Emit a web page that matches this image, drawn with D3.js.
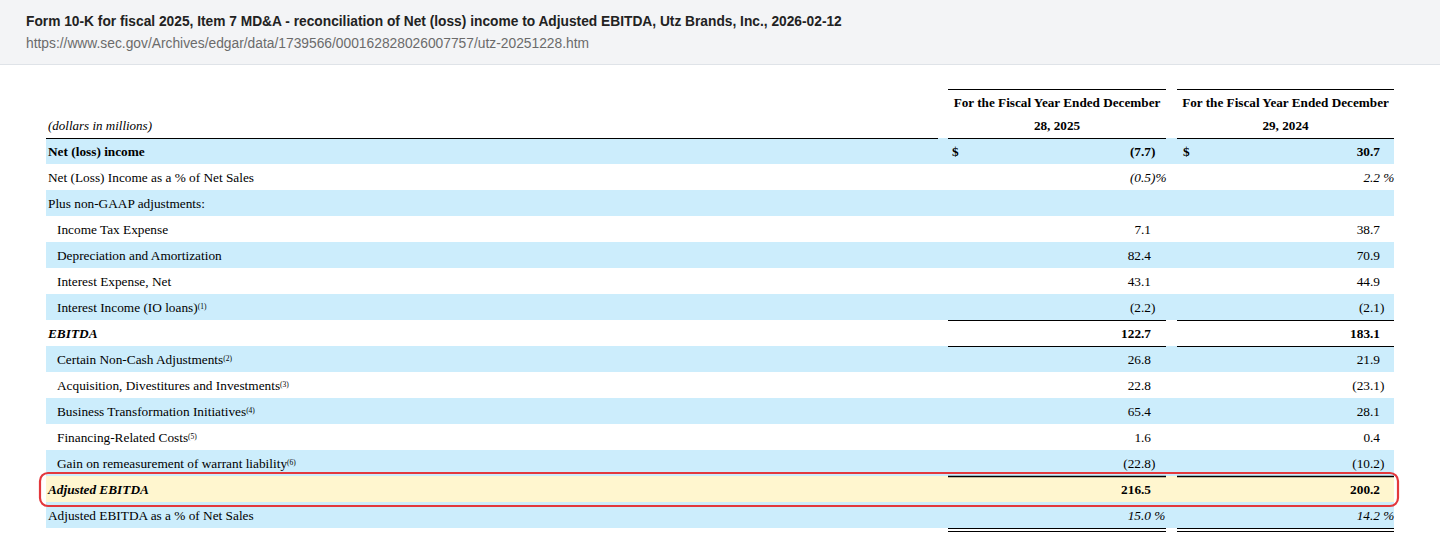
<!DOCTYPE html>
<html>
<head>
<meta charset="utf-8">
<script src="https://cdn.jsdelivr.net/npm/d3@7"></script>
<style>
  html, body { margin: 0; padding: 0; background: #ffffff; }
  svg { display: block; }
</style>
</head>
<body>
<div id="chart"></div>
<script>
// ---------- data ----------
const title = "Form 10-K for fiscal 2025, Item 7 MD&A - reconciliation of Net (loss) income to Adjusted EBITDA, Utz Brands, Inc., 2026-02-12";
const sourceUrl = "https://www.sec.gov/Archives/edgar/data/1739566/000162828026007757/utz-20251228.htm";
const unitsNote = "(dollars in millions)";
const columnHeaders = [
  ["For the Fiscal Year Ended December", "28, 2025"],
  ["For the Fiscal Year Ended December", "29, 2024"]
];
const rowLabels = [
  "Net (loss) income",
  "Net (Loss) Income as a % of Net Sales",
  "Plus non-GAAP adjustments:",
  "Income Tax Expense",
  "Depreciation and Amortization",
  "Interest Expense, Net",
  "Interest Income (IO loans)",
  "EBITDA",
  "Certain Non-Cash Adjustments",
  "Acquisition, Divestitures and Investments",
  "Business Transformation Initiatives",
  "Financing-Related Costs",
  "Gain on remeasurement of warrant liability",
  "Adjusted EBITDA",
  "Adjusted EBITDA as a % of Net Sales"
];
const footnoteMarks = [null, null, null, null, null, null, "(1)", null, "(2)", "(3)", "(4)", "(5)", "(6)", null, null];
const values2025 = [-7.7, -0.5, null, 7.1, 82.4, 43.1, -2.2, 122.7, 26.8, 22.8, 65.4, 1.6, -22.8, 216.5, 15.0];
const values2024 = [30.7, 2.2, null, 38.7, 70.9, 44.9, -2.1, 183.1, 21.9, -23.1, 28.1, 0.4, -10.2, 200.2, 14.2];
// row kinds: "total" bold, "subtotal" bold italic, "pct" italic percent, "item" indented, "plain"
const rowKinds = ["total", "pct", "plain", "item", "item", "item", "item", "subtotal", "item", "item", "item", "item", "item", "subtotal", "pct"];
const dollarRows = [0];
const highlightRow = 13;

// ---------- layout ----------
const W = 1440, H = 560;
const svg = d3.select("#chart").append("svg").attr("width", W).attr("height", H);

// header band
svg.append("rect").attr("x", 0).attr("y", 0).attr("width", W).attr("height", 64).attr("fill", "#f3f4f6");
svg.append("line").attr("x1", 0).attr("x2", W).attr("y1", 64.5).attr("y2", 64.5).attr("stroke", "#dfe3e8");
svg.append("text").attr("x", 26).attr("y", 26)
  .attr("font-family", "Liberation Sans, Arial, sans-serif").attr("font-weight", "bold")
  .attr("font-size", 13.75).attr("fill", "#222").text(title);
svg.append("text").attr("x", 26).attr("y", 48)
  .attr("font-family", "Liberation Sans, Arial, sans-serif")
  .attr("font-size", 13.8).attr("fill", "#6b6b6b").text(sourceUrl);

const serif = "Liberation Serif, 'Times New Roman', serif";
const fs = 13.3;
const tableLeft = 46, tableRight = 1394;
const colSpans = [[948, 1166], [1177, 1394]];
const numRight = [1151, 1380];
const dollarX = [952, 1183];

const y = d3.scaleBand().domain(d3.range(rowLabels.length)).range([138, 528]).paddingInner(0).paddingOuter(0);
const bw = y.bandwidth();

// row backgrounds
const rowFill = i => i === highlightRow ? "#fff6cf" : (i % 2 === 0 ? "#ccedfc" : "#ffffff");
svg.append("g").selectAll("rect").data(rowLabels).join("rect")
  .attr("x", tableLeft).attr("width", tableRight - tableLeft)
  .attr("y", (d, i) => y(i)).attr("height", bw)
  .attr("fill", (d, i) => rowFill(i));

// column headers
const hdr = svg.append("g").attr("font-family", serif).attr("font-weight", "bold").attr("font-size", 13.2).attr("fill", "#000");
columnHeaders.forEach((lines, c) => {
  const cx = (colSpans[c][0] + colSpans[c][1]) / 2;
  hdr.append("line").attr("x1", colSpans[c][0]).attr("x2", colSpans[c][1]).attr("y1", 89.5).attr("y2", 89.5).attr("stroke", "#000");
  lines.forEach((t, k) => hdr.append("text").attr("x", cx).attr("y", 106.5 + k * 23).attr("text-anchor", "middle").text(t));
});
svg.append("text").attr("x", 48).attr("y", 129.5).attr("font-family", serif).attr("font-style", "italic")
  .attr("font-size", 13).attr("fill", "#000").text(unitsNote);

// rule under header
const rules = svg.append("g").attr("stroke", "#000");
rules.append("line").attr("x1", tableLeft).attr("x2", 938).attr("y1", 138.5).attr("y2", 138.5);
colSpans.forEach(s => rules.append("line").attr("x1", s[0]).attr("x2", s[1]).attr("y1", 138.5).attr("y2", 138.5));

// subtotal rules
rowKinds.forEach((k, i) => {
  if (k === "subtotal") {
    colSpans.forEach(s => {
      rules.append("line").attr("x1", s[0]).attr("x2", s[1]).attr("y1", y(i) + 0.5).attr("y2", y(i) + 0.5)
        .attr("stroke-width", i === highlightRow ? 1.5 : 1);
      if (i !== highlightRow) rules.append("line").attr("x1", s[0]).attr("x2", s[1]).attr("y1", y(i) + bw + 0.5).attr("y2", y(i) + bw + 0.5);
    });
  }
});
// double rule at bottom
colSpans.forEach(s => {
  [0.5, 3.5].forEach(o => rules.append("line").attr("x1", s[0]).attr("x2", s[1])
    .attr("y1", y(rowLabels.length - 1) + bw + o).attr("y2", y(rowLabels.length - 1) + bw + o));
});

// labels
const lab = svg.append("g").attr("font-family", serif).attr("font-size", fs).attr("fill", "#000");
rowLabels.forEach((t, i) => {
  const k = rowKinds[i];
  const tx = lab.append("text").attr("x", k === "item" ? 57 : 48).attr("y", y(i) + bw / 2 + 4.5)
    .attr("font-weight", (k === "total" || k === "subtotal") ? "bold" : null)
    .attr("font-style", k === "subtotal" ? "italic" : null);
  tx.append("tspan").text(t);
  if (footnoteMarks[i]) tx.append("tspan").attr("font-size", 7.5).attr("dy", -3).text(footnoteMarks[i]);
});

// values
const fmt = d3.format(".1f");
function parts(v, kind) {
  if (v === null) return null;
  const s = fmt(Math.abs(v));
  if (kind === "pct") return v < 0 ? ["(" + s, ")%"] : [s, " %"];
  return v < 0 ? ["(" + s, ")"] : [s, ""];
}
const vals = svg.append("g").attr("font-family", serif).attr("font-size", fs).attr("fill", "#000");
[values2025, values2024].forEach((arr, c) => {
  arr.forEach((v, i) => {
    const k = rowKinds[i];
    const p = parts(v, k);
    if (!p) return;
    const ty = y(i) + bw / 2 + 4.5;
    const weight = (k === "total" || k === "subtotal") ? "bold" : null;
    const style = k === "pct" ? "italic" : null;
    vals.append("text").attr("x", numRight[c]).attr("y", ty).attr("text-anchor", "end")
      .attr("font-weight", weight).attr("font-style", style).text(p[0]);
    if (p[1]) vals.append("text").attr("x", numRight[c]).attr("y", ty)
      .attr("font-weight", weight).attr("font-style", style).attr("xml:space", "preserve").style("white-space", "pre").text(p[1]);
    if (dollarRows.includes(i)) vals.append("text").attr("x", dollarX[c]).attr("y", ty).attr("font-weight", "bold").text("$");
  });
});

// highlight outline
svg.append("rect").attr("x", 40).attr("y", y(highlightRow) - 3).attr("width", 1358).attr("height", bw + 7)
  .attr("rx", 8).attr("fill", "none").attr("stroke", "#e3383c").attr("stroke-width", 2.2);
</script>
</body>
</html>
